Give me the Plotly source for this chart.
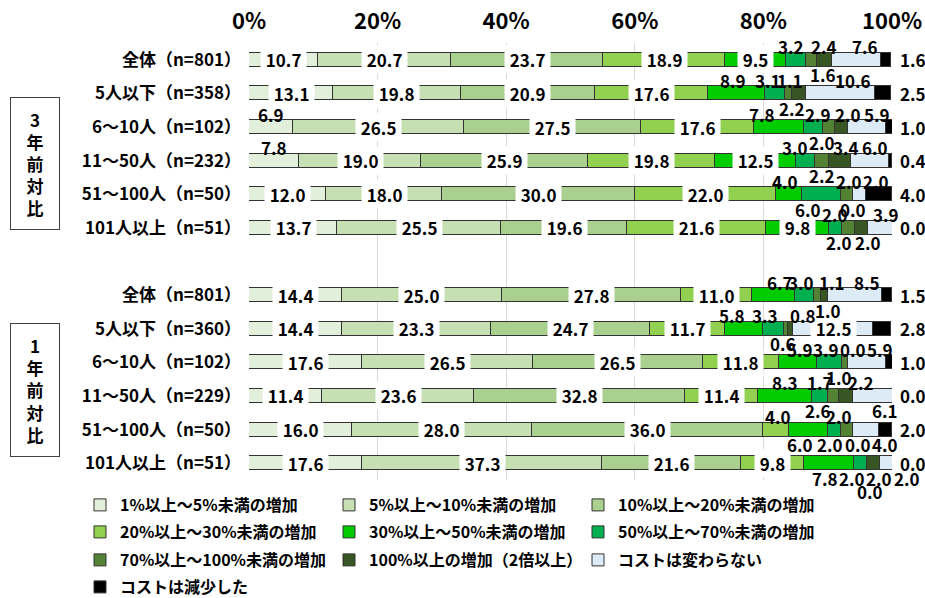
import plotly.graph_objects as go

# ---------------- data ----------------
categories = ["全体（n=801）", "5人以下（n=358）", "6～10人（n=102）", "11～50人（n=232）",
              "51～100人（n=50）", "101人以上（n=51）",
              "全体（n=801）", "5人以下（n=360）", "6～10人（n=102）", "11～50人（n=229）",
              "51～100人（n=50）", "101人以上（n=51）"]
group_labels = ["3<br>年<br>前<br>対<br>比", "1<br>年<br>前<br>対<br>比"]
series_names = ["1%以上～5%未満の増加", "5%以上～10%未満の増加", "10%以上～20%未満の増加",
                "20%以上～30%未満の増加", "30%以上～50%未満の増加", "50%以上～70%未満の増加",
                "70%以上～100%未満の増加", "100%以上の増加（2倍以上）", "コストは変わらない",
                "コストは減少した"]
s1 = [10.7, 13.1, 6.9, 7.8, 12.0, 13.7, 14.4, 14.4, 17.6, 11.4, 16.0, 17.6]
s2 = [20.7, 19.8, 26.5, 19.0, 18.0, 25.5, 25.0, 23.3, 26.5, 23.6, 28.0, 37.3]
s3 = [23.7, 20.9, 27.5, 25.9, 30.0, 19.6, 27.8, 24.7, 26.5, 32.8, 36.0, 21.6]
s4 = [18.9, 17.6, 17.6, 19.8, 22.0, 21.6, 11.0, 11.7, 11.8, 11.4, 4.0, 9.8]
s5 = [9.5, 8.9, 7.8, 12.5, 4.0, 9.8, 6.7, 5.8, 5.9, 8.3, 6.0, 7.8]
s6 = [3.2, 3.1, 2.9, 3.0, 6.0, 2.0, 3.0, 3.3, 3.9, 2.6, 2.0, 2.0]
s7 = [1.6, 1.1, 2.0, 2.2, 2.0, 2.0, 1.0, 0.6, 1.0, 1.7, 2.0, 0.0]
s8 = [2.4, 2.2, 2.0, 3.4, 0.0, 2.0, 1.1, 0.8, 0.0, 2.2, 0.0, 2.0]
s9 = [7.6, 10.6, 5.9, 6.0, 2.0, 3.9, 8.5, 12.5, 5.9, 6.1, 4.0, 2.0]
s10 = [1.6, 2.5, 1.0, 0.4, 4.0, 0.0, 1.5, 2.8, 1.0, 0.0, 2.0, 0.0]
series = [s1, s2, s3, s4, s5, s6, s7, s8, s9, s10]
x_ticks = [0, 20, 40, 60, 80, 100]
x_tick_labels = ["0%", "20%", "40%", "60%", "80%", "100%"]

# ---------------- style ----------------
colors = ["#E2EFDA", "#C6E0B4", "#A9D08E", "#92D050", "#00CC00", "#00B050",
          "#548235", "#375623", "#DDEBF7", "#000000"]
FONT = "Noto Sans CJK JP"
# label placement per row: i=inside, u=above, d=below, D=further below, r=right of bar
placement = ["iiiiiuduur", "iiiiuuudur", "uiiiuuduur", "uiiiiuduur", "iiiiududur", "iiiiiuddur",
             "iiiiuuduur", "iiiiuuduir", "iiiiuuduur", "iiiiuduudr", "iiiudduddr", "iiiiddDddr"]
xshift = [
    [0, 0, 0, 0, 0, -5, 11, 0, 8, 0],
    [0, 0, 0, 0, -4, -7, 1, -7, 12, 0],
    [0, 0, 0, 0, -17, 5, -7, 6, 10, 0],
    [0, 0, 0, 0, 0, -10, 0, 6, 5, 0],
    [0, 0, 0, 0, -4, -13, 2, 0, 16, 0],
    [0, 0, 0, 0, 0, 0, -9, 7, 6, 0],
    [0, 0, 0, 0, 7, -4, 11, 8, 12, 0],
    [0, 0, 0, 0, -12, -8, -3, 13, 3, 0],
    [0, 0, 0, 0, 2, -3, -6, 5, 13, 0],
    [0, 0, 0, 0, 0, -2, -14, 15, 12, 0],
    [0, 0, 0, 2, -8, -4, -8, 5, 19, 0],
    [0, 0, 0, 0, -4, -8, 3, 6, 21, 0],
]
yshift_map = {"u": 13, "d": -15, "D": -28, "i": 0, "r": 0}

W, H = 925, 598
ML, MR, MT, MB = 249, 33, 43, 118
PW, PH = W - ML - MR, H - MT - MB

def px2px(x):
    return (x - ML) / PW

def py2py(y):
    return (H - MB - y) / PH

ypos = [i if i < 6 else i + 1 for i in range(len(categories))]

fig = go.Figure()
legend_ids = ["legend", "legend2", "legend3", "legend4"]
for k, (name, vals) in enumerate(zip(series_names, series)):
    fig.add_trace(go.Bar(
        y=ypos, x=vals, name=name, orientation="h",
        marker=dict(color=colors[k], line=dict(color="#333333", width=1)),
        width=0.42, legend=legend_ids[k // 3], hoverinfo="skip",
    ))

inside, outside = [], []
for r in range(len(categories)):
    cum = 0.0
    for k in range(len(series)):
        v = series[k][r]
        c = cum + v / 2
        cum += v
        p = placement[r][k]
        txt = f"{v:.1f}"
        if p == "i":
            inside.append(dict(x=c, y=ypos[r], xref="x", yref="y", showarrow=False,
                               text="&nbsp;<b>" + txt + "</b>&nbsp;", bgcolor="white",
                               borderpad=1, font=dict(family=FONT, size=17, color="black"),
                               xanchor="center", yanchor="middle"))
        elif p == "r":
            outside.append(dict(x=100, y=ypos[r], xref="x", yref="y", showarrow=False,
                                text="<b>" + txt + "</b>", xanchor="left", yanchor="middle",
                                xshift=6, font=dict(family=FONT, size=17, color="black")))
        else:
            outside.append(dict(x=c, y=ypos[r], xref="x", yref="y", showarrow=False,
                                text="<b>" + txt + "</b>", xanchor="center", yanchor="middle",
                                xshift=xshift[r][k], yshift=yshift_map[p],
                                font=dict(family=FONT, size=17, color="black")))
annotations = inside + outside

# group boxes
for g, (y0, y1) in enumerate([(97, 230), (323, 457)]):
    annotations.append(dict(x=px2px(35), y=py2py((y0 + y1) / 2), xref="paper", yref="paper",
                            showarrow=False, text="<b>" + group_labels[g] + "</b>",
                            width=48, height=(y1 - y0) - 2, borderpad=0,
                            bordercolor="#404040", borderwidth=1, bgcolor="white",
                            font=dict(family=FONT, size=17, color="black"),
                            xanchor="center", yanchor="middle", valign="middle"))

layout_legends = {}
leg_rows_y = [505, 532, 560, 587]
for i, lid in enumerate(legend_ids):
    layout_legends[lid] = dict(
        orientation="h", x=px2px(80), xanchor="left", y=py2py(leg_rows_y[i]), yanchor="middle",
        entrywidth=204, entrywidthmode="pixels", traceorder="normal",
        font=dict(family=FONT, size=16, color="black", weight="bold"),
        bgcolor="rgba(0,0,0,0)", borderwidth=0, itemclick=False, itemdoubleclick=False,
    )

fig.update_layout(
    width=W, height=H, barmode="stack", bargap=0,
    margin=dict(l=ML, r=MR, t=MT, b=MB, pad=0, autoexpand=False),
    paper_bgcolor="white", plot_bgcolor="white",
    showlegend=True,
    annotations=annotations,
    font=dict(family=FONT, color="black"),
    xaxis=dict(side="top", range=[0, 100], tickvals=x_ticks, ticktext=x_tick_labels,
               showgrid=True, gridcolor="#D9D9D9", gridwidth=1, zeroline=False,
               showline=False, ticks="", ticklabelstandoff=9, automargin=False,
               tickfont=dict(family=FONT, size=22, color="black", weight="bold"), fixedrange=True),
    yaxis=dict(range=[12.5, -0.5], tickvals=ypos, ticktext=categories, showgrid=False,
               zeroline=False, showline=False, ticks="", ticklabelstandoff=7, automargin=False,
               tickfont=dict(family=FONT, size=17, color="black", weight="bold"), fixedrange=True),
    **layout_legends,
)

fig.write_html("out.html", config={"displayModeBar": False, "staticPlot": False},
               post_script="document.body.style.margin='0';document.body.style.overflow='hidden';")
